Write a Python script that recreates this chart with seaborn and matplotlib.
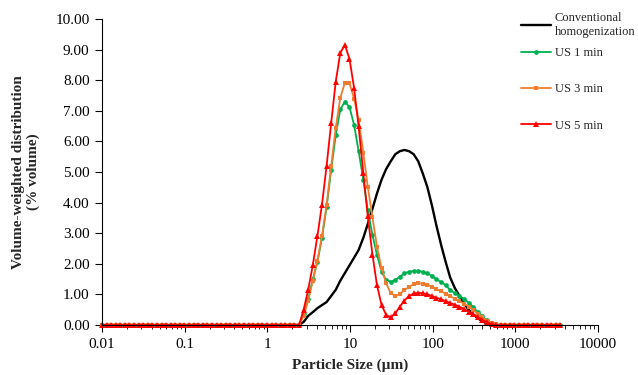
import matplotlib
matplotlib.use("Agg")
import matplotlib.pyplot as plt
from matplotlib.ticker import LogLocator, NullFormatter
import pandas as pd
import seaborn as sns

# particle size classes (um), laser diffraction bins
sizes = [0.0100, 0.0114, 0.0129, 0.0147, 0.0167, 0.0189, 0.0215, 0.0244, 0.0278, 0.0316,
         0.0358, 0.0407, 0.0463, 0.0526, 0.0597, 0.0679, 0.0771, 0.0876, 0.0995, 0.113,
         0.128, 0.146, 0.166, 0.188, 0.214, 0.243, 0.276, 0.314, 0.357, 0.405,
         0.460, 0.523, 0.594, 0.675, 0.767, 0.872, 0.991, 1.13, 1.28, 1.45,
         1.65, 1.88, 2.13, 2.42, 2.75, 3.12, 3.55, 4.03, 4.58, 5.21,
         5.92, 6.72, 7.64, 8.68, 9.86, 11.2, 12.7, 14.5, 16.4, 18.7,
         21.2, 24.1, 27.4, 31.1, 35.3, 40.1, 45.6, 51.8, 58.9, 66.9,
         76.0, 86.4, 98.1, 111, 127, 144, 163, 186, 211, 240,
         272, 310, 352, 400, 454, 516, 586, 666, 756, 859,
         976, 1110, 1260, 1430, 1630, 1850, 2100, 2390, 2710, 3080, 3500]

conventional = [0.0] * 44 + [
    0.1, 0.3, 0.42, 0.55, 0.65, 0.75, 0.95, 1.15, 1.45, 1.7,
    1.95, 2.2, 2.45, 2.85, 3.3, 3.8, 4.3, 4.75, 5.1, 5.35,
    5.58, 5.68, 5.72, 5.68, 5.58, 5.35, 4.95, 4.5, 3.9, 3.25,
    2.6, 2.05, 1.55, 1.2, 0.95, 0.7, 0.5, 0.35, 0.22, 0.12,
    0.05, 0.01] + [0.0] * 15

us_1min = [0.0] * 44 + [
    0.35, 0.85, 1.5, 2.05, 2.85, 3.85, 5.07, 6.2, 7.05, 7.3,
    7.12, 6.54, 5.69, 4.74, 3.76, 2.94, 2.29, 1.74, 1.47, 1.42,
    1.47, 1.58, 1.69, 1.74, 1.77, 1.77, 1.74, 1.69, 1.6, 1.5,
    1.4, 1.3, 1.14, 1.04, 0.95, 0.85, 0.73, 0.58, 0.42, 0.28,
    0.15, 0.06, 0.01] + [0.0] * 14

us_3min = [0.0] * 44 + [
    0.3, 0.8, 1.45, 2.1, 2.9, 3.92, 5.2, 6.45, 7.43, 7.92,
    7.9, 7.4, 6.7, 5.63, 4.52, 3.52, 2.56, 1.85, 1.36, 1.04,
    0.95, 1.01, 1.14, 1.25, 1.33, 1.36, 1.35, 1.32, 1.25, 1.17,
    1.1, 1.02, 0.94, 0.86, 0.78, 0.7, 0.6, 0.49, 0.37, 0.25,
    0.14, 0.06, 0.02] + [0.0] * 14

us_5min = [0.0] * 44 + [
    0.5, 1.15, 1.96, 2.9, 3.93, 5.2, 6.6, 7.95, 8.9, 9.15,
    8.7, 7.75, 6.5, 4.96, 3.55, 2.3, 1.3, 0.65, 0.33, 0.25,
    0.38, 0.6, 0.8, 0.95, 1.03, 1.05, 1.04, 1.0, 0.95, 0.89,
    0.84, 0.78, 0.72, 0.66, 0.6, 0.52, 0.44, 0.35, 0.26, 0.17,
    0.09, 0.03] + [0.0] * 15

labels = ["Conventional\nhomogenization", "US 1 min", "US 3 min", "US 5 min"]

df = pd.DataFrame({"size": sizes,
                   labels[0]: conventional,
                   labels[1]: us_1min,
                   labels[2]: us_3min,
                   labels[3]: us_5min})

sns.set_style("ticks")
plt.rcParams["font.family"] = ["Liberation Serif", "DejaVu Serif"]

fig, ax = plt.subplots(figsize=(6.38, 3.75), dpi=100)
fig.subplots_adjust(left=102/638, right=598/638, bottom=50/375, top=1-19/375)

styles = [
    dict(color="black", lw=1.7, marker=None),
    dict(color="#00B050", lw=1.3, marker="o", markersize=3.4, markeredgewidth=0),
    dict(color="#ED7D31", lw=1.3, marker="s", markersize=3.5, markeredgewidth=0),
    dict(color="#FF0000", lw=1.3, marker="^", markersize=4.4, markeredgewidth=0),
]

for lab, st in zip(labels, styles):
    sns.lineplot(data=df, x="size", y=lab, ax=ax, label=lab, clip_on=False, **st)

ax.set_xscale("log")
ax.set_xlim(0.01, 10000)
ax.set_xticks([0.01, 0.1, 1, 10, 100, 1000, 10000])
ax.set_xticklabels(["0.01", "0.1", "1", "10", "100", "1000", "10000"])
ax.xaxis.set_minor_locator(LogLocator(base=10, subs=range(2, 10)))
ax.xaxis.set_minor_formatter(NullFormatter())

ax.set_ylim(0, 10)
ax.set_yticks(range(0, 11))
ax.set_yticklabels([f"{v:.2f}" for v in range(0, 11)])

sns.despine(ax=ax)
for sp in ["left", "bottom"]:
    ax.spines[sp].set_color("black")
    ax.spines[sp].set_linewidth(0.8)

ax.tick_params(axis="both", which="major", direction="out", length=5, width=0.8,
               color="black", labelsize=11, labelcolor="black", pad=4)
ax.tick_params(axis="x", which="minor", direction="out", length=3, width=0.6, color="black")

ax.set_xlabel("Particle Size (µm)", fontsize=11, fontweight="bold")
ax.set_ylabel("Volume-weighted distribution\n(% volume)", fontsize=11,
              fontweight="bold", linespacing=1.1)
ax.xaxis.set_label_coords(0.5, -0.11)
ax.yaxis.set_label_coords(-0.125, 0.5)

# Excel-style legend: conventional entry on top, US entries spaced below
handles, labs = ax.get_legend_handles_labels()
leg_kw = dict(loc="upper left", bbox_transform=fig.transFigure, frameon=False,
              fontsize=9, handlelength=2.4, handletextpad=0.3,
              borderpad=0, borderaxespad=0)
leg1 = ax.legend(handles[:1], labs[:1], bbox_to_anchor=(521/638, 1-12/375),
                 labelspacing=0.2, **leg_kw)
ax.add_artist(leg1)
ax.legend(handles[1:], labs[1:], bbox_to_anchor=(521/638, 1-47/375),
          labelspacing=1.95, **leg_kw)

fig.savefig("out.png", dpi=100)
